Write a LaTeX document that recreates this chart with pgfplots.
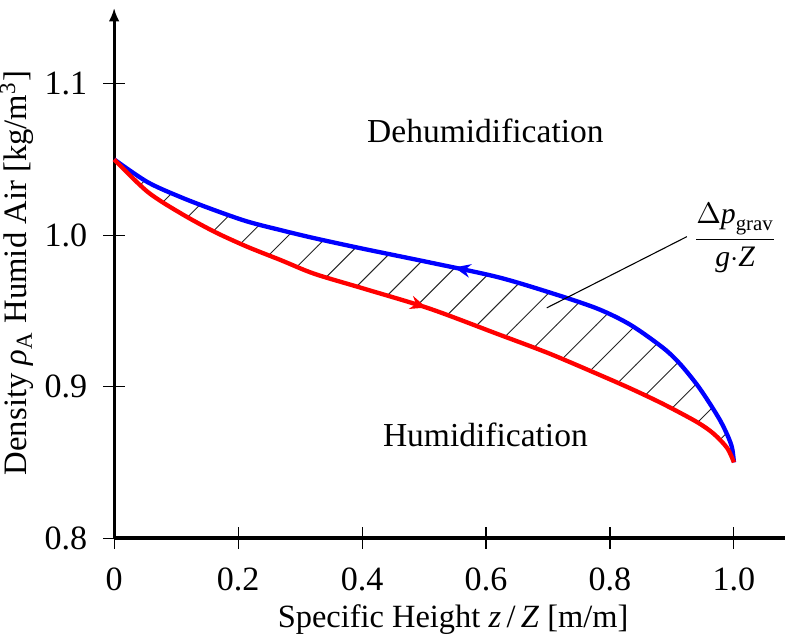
\documentclass[border=0pt]{standalone}
\usepackage{fontspec}
\setmainfont{Liberation Serif}
\usepackage{pgfplots}
\usepackage{pgfplotstable}
\pgfplotsset{compat=1.18}
\usepgfplotslibrary{fillbetween}
\usetikzlibrary{patterns,decorations.markings,arrows.meta}
\pgfdeclarepatternformonly{hatch}{\pgfqpoint{-1pt}{-1pt}}{\pgfqpoint{15.7pt}{15.7pt}}{\pgfqpoint{14.7pt}{14.7pt}}{%
  \pgfsetlinewidth{0.35pt}
  \pgfpathmoveto{\pgfqpoint{0pt}{0pt}}
  \pgfpathlineto{\pgfqpoint{14.8pt}{14.8pt}}
  \pgfusepath{stroke}}
% Dehumidification (upper, blue)
\pgfplotstableread{
x y
0 1.05
0.054 1.035
0.108 1.025
0.162 1.0165
0.215 1.009
0.269 1.0033
0.323 0.998
0.402 0.991
0.509 0.982
0.617 0.9725
0.70 0.9625
0.779 0.9516
0.833 0.9408
0.886 0.9255
0.913 0.9150
0.94 0.9015
0.96 0.8895
0.978 0.8775
0.99 0.8675
0.997 0.8595
1 0.85
}\dehum
% Humidification (lower, red)
\pgfplotstableread{
x y
0 1.05
0.054 1.0286
0.108 1.0143
0.162 1.0022
0.215 0.9923
0.269 0.9835
0.323 0.9745
0.402 0.9648
0.509 0.9515
0.617 0.935
0.70 0.9222
0.779 0.9085
0.833 0.8988
0.886 0.8885
0.94 0.8767
0.967 0.8690
0.989 0.8595
1 0.85
}\hum
\begin{document}
\begin{tikzpicture}
\begin{axis}[
  x=229.3pt, y=560.4pt,
  xmin=0, xmax=1.083, ymin=0.8, ymax=1.15,
  axis x line=bottom, axis y line=left,
  x axis line style={very thick,-},
  y axis line style={very thick,-{Latex[length=5pt,width=4pt]}},
  tick align=center,
  major tick length=8pt,
  tick style={black,thin},
  /pgf/number format/assume math mode=true,
  xtick={0,0.2,0.4,0.6,0.8,1.0},
  xticklabels={0,0.2,0.4,0.6,0.8,1.0},
  ytick={0.8,0.9,1.0,1.1},
  yticklabels={0.8,0.9,1.0,1.1},
  ticklabel style={font=\fontsize{12.6}{14}\selectfont},
  xticklabel style={yshift=-3.4pt},
  yticklabel style={xshift=-2.4pt},
  xlabel={Specific Height \textit{z}\,/\,\textit{Z} [m/m]},
  ylabel={Density \textit{ρ}\textsubscript{A} Humid Air [kg/m\textsuperscript{3}]},
  xlabel style={font=\fontsize{12}{14}\selectfont, at={(axis description cs:0.505,0)}, anchor=center, yshift=-30pt},
  ylabel style={font=\fontsize{12.1}{14}\selectfont, inner sep=0pt, at={(axis description cs:-0.1447,0.5)}, anchor=center},
  clip=false,
]
\addplot[name path=A, draw=none, smooth] table[x=x,y=y] {\dehum};
\addplot[name path=B, draw=none, smooth] table[x=x,y=y] {\hum};
\addplot[draw=none, pattern=hatch, pattern color=black!85] fill between[of=A and B];
\addplot[blue, ultra thick, smooth,
  postaction={decorate},
  decoration={markings, mark=at position 0.52 with {\arrow{Stealth[length=6pt,width=5pt,reversed]}}}]
 table[x=x,y=y] {\dehum};
\addplot[red, ultra thick, smooth,
  postaction={decorate},
  decoration={markings, mark=at position 0.50 with {\arrow{Stealth[length=6pt,width=5pt]}}}]
 table[x=x,y=y] {\hum};
\draw (axis cs:0.698,0.952) -- (axis cs:0.924,0.999);
\node[font=\fontsize{11}{13}\selectfont] at (axis cs:1.002,0.998) {$\displaystyle\frac{\Delta\textit{p}_{\mathrm{grav}}}{\textit{g}{\cdot}\textit{Z}}$};
\node[font=\fontsize{12.4}{14}\selectfont] at (axis cs:0.599,1.069) {Dehumidification};
\node[font=\fontsize{12.4}{14}\selectfont] at (axis cs:0.599,0.868) {Humidification};
\path (axis description cs:0,1.015);
\end{axis}
\end{tikzpicture}
\end{document}
